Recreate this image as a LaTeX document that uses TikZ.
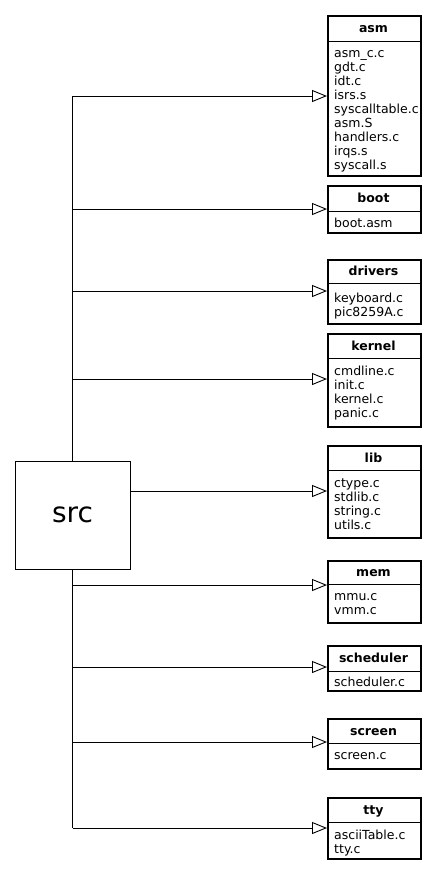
\documentclass[tikz,border=0pt]{standalone}
\usepackage{fontspec}
\setmainfont{DejaVu Sans}
\usetikzlibrary{arrows.meta}
\newcommand{\drawpkg}[7]{%
  \node[pkg, minimum height={#4-#2}, anchor=north west] (#1) at (327,#2) {};
  \draw[sepline] (#1.west |- 0,#3) -- (#1.east |- 0,#3);
  \node[ttl] (#1-title) at (373.5,{(#2+#3)/2}) {#5};
  \foreach \t [count=\i] in {#7} {\node[itm] (#1-\i) at (334,{#6+14*(\i-1)}) {\t};}
}
\begin{document}
\begin{tikzpicture}[x=1pt,y=-1pt,
  pkg/.style={draw, line width=1.6pt, inner sep=0pt, minimum width=93pt},
  sepline/.style={line width=0.9pt},
  ttl/.style={inner sep=0pt, font=\fontsize{12.5}{14}\selectfont\bfseries, text height=9pt, text depth=0pt},
  itm/.style={inner sep=0pt, anchor=west, font=\fontsize{12.5}{14}\selectfont, text height=9pt, text depth=0pt},
  srcbox/.style={draw, line width=0.9pt, inner sep=0pt, minimum width=115pt, minimum height=108pt, font=\fontsize{28}{32}\selectfont},
  wire/.style={line width=0.9pt},
  conn/.style={line width=0.9pt, -{Triangle[open, length=15pt, width=12pt, line width=0.9pt]}}]
\useasboundingbox (0,0) rectangle (435,876);

\node[srcbox] (src) at (72.5,515) {src};

\drawpkg{asm}{15}{41}{175}{asm}{53}{asm\_c.c,gdt.c,idt.c,isrs.s,syscalltable.c,asm.S,handlers.c,irqs.s,syscall.s}
\drawpkg{boot}{185}{211}{232}{boot}{223}{boot.asm}
\drawpkg{drivers}{259}{283}{323}{drivers}{298}{keyboard.c,pic8259A.c}
\drawpkg{kernel}{333}{358}{426}{kernel}{371}{cmdline.c,init.c,kernel.c,panic.c}
\drawpkg{lib}{445}{470}{537}{lib}{483}{ctype.c,stdlib.c,string.c,utils.c}
\drawpkg{mem}{560}{584}{622}{mem}{596}{mmu.c,vmm.c}
\drawpkg{scheduler}{645}{671}{690}{scheduler}{682}{scheduler.c}
\drawpkg{screen}{718}{743}{768}{screen}{755}{screen.c}
\drawpkg{tty}{797}{822}{858}{tty}{835}{asciiTable.c,tty.c}

\coordinate (t-asm) at (72.5,96);
\coordinate (t-boot) at (72.5,209);
\coordinate (t-drivers) at (72.5,291);
\coordinate (t-kernel) at (72.5,379);
\coordinate (t-mem) at (72.5,585);
\coordinate (t-scheduler) at (72.5,667);
\coordinate (t-screen) at (72.5,742);
\coordinate (t-tty) at (72.5,828);
\coordinate (s-lib) at (130,491);

\draw[wire] (t-asm) -- (src.north);
\draw[wire] (src.south) -- (t-tty);
\foreach \n in {asm,boot,drivers,kernel,mem,scheduler,screen,tty} {
  \draw[conn] (t-\n) -- (\n.west |- t-\n);
}
\draw[conn] (src.east |- s-lib) -- (lib.west |- s-lib);
\end{tikzpicture}
\end{document}
